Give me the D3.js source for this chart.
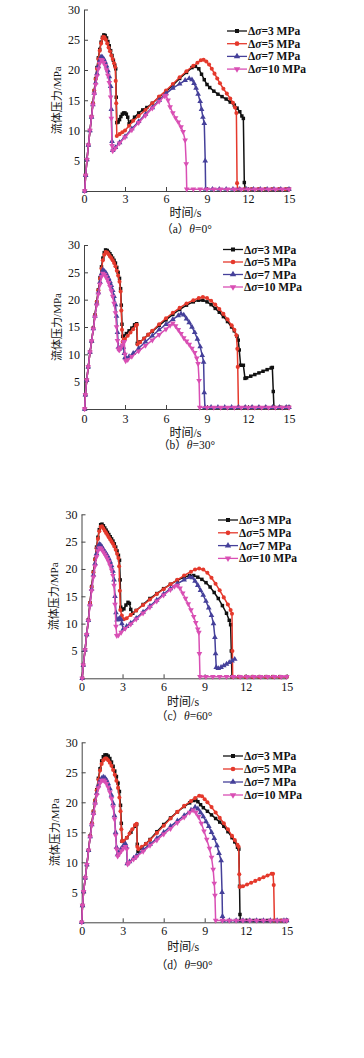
<!DOCTYPE html>
<html lang="zh">
<head>
<meta charset="utf-8">
<title>流体压力曲线</title>
<style>
  body { margin: 0; background: #fff; }
  svg { display: block; }
  .axis path, .axis line { stroke: #444; stroke-width: 1; }
  .axis text { font-family: "Liberation Serif", serif; font-size: 12px; fill: #111; }
  .lbl { font-family: "Liberation Serif", "Noto Sans CJK SC", serif; fill: #111; }
  .leg { font-family: "Liberation Serif", serif; font-size: 11.5px; font-weight: bold; fill: #111; }
</style>
<script src="https://d3js.org/d3.v7.min.js"></script>
</head>
<body>
<svg width="364" height="1058"></svg>
<script>
// ticks and labels
var timeTicks = [0, 3, 6, 9, 12, 15];
var pressureTicks = [5, 10, 15, 20, 25, 30];
var stressLevels = ["3", "5", "7", "10"];
var panelTags = ["a", "b", "c", "d"];
var panelAngles = ["0°", "30°", "60°", "90°"];

// (a) theta = 0
var a3 = [[0.05,0],[0.12,2.6],[0.22,5.2],[0.32,7.6],[0.44,10],[0.55,12.3],[0.65,14.5],[0.75,16.6],[0.85,18.6],[0.95,20.4],[1.05,22],[1.15,23.4],[1.25,24.6],[1.35,25.4],[1.45,25.8],[1.55,25.7],[1.65,25.3],[1.75,24.7],[1.85,24],[1.95,23.2],[2.05,22.4],[2.15,21.6],[2.25,20.8],[2.32,20.2],[2.36,15.5],[2.4,11.3],[2.5,11.4],[2.6,11.8],[2.7,12.3],[2.8,12.7],[2.9,12.9],[3.0,12.9],[3.1,12.7],[3.2,12.2],[3.3,11.1],[3.45,11.5],[3.7,12.2],[4,12.9],[4.3,13.4],[4.6,13.8],[5,14.5],[5.5,15.5],[6,16.4],[6.5,17.5],[7,18.6],[7.5,19.6],[7.9,20.4],[8.15,20.6],[8.4,20.2],[8.6,19.3],[8.8,18.4],[9.0,17.6],[9.2,17.1],[9.5,16.5],[9.8,16.0],[10.1,15.6],[10.4,15.2],[10.7,14.7],[11.0,14.2],[11.2,13.7],[11.4,13.1],[11.55,12.4],[11.66,12],[11.73,1.4],[11.8,0.3],[12.3,0.3],[12.8,0.3],[13.3,0.3],[13.8,0.3],[14.3,0.3],[14.8,0.3],[15,0.3]];
var a5 = [[0.05,0],[0.12,2.6],[0.22,5.2],[0.32,7.6],[0.44,10],[0.55,12.3],[0.65,14.5],[0.75,16.6],[0.85,18.5],[0.95,20.2],[1.05,21.8],[1.15,23.2],[1.25,24.4],[1.35,25.2],[1.42,25.5],[1.5,25.4],[1.6,25],[1.7,24.4],[1.8,23.7],[1.9,23.1],[2.0,22.4],[2.1,21.8],[2.2,21.1],[2.28,20.5],[2.32,18.2],[2.36,14.5],[2.4,9.1],[2.6,9.4],[2.8,9.7],[3,10],[3.3,10.8],[3.6,11.6],[4,12.4],[4.5,13.4],[5,14.5],[5.5,15.6],[6,16.6],[6.5,17.7],[7,18.8],[7.5,19.8],[8,20.7],[8.3,21.2],[8.55,21.6],[8.75,21.7],[8.95,21.4],[9.15,20.9],[9.35,20.2],[9.55,19.4],[9.75,18.6],[9.95,17.8],[10.2,16.9],[10.45,16.1],[10.7,15.3],[10.9,14.6],[11.05,13.8],[11.15,12.9],[11.2,1.3],[11.25,0.3],[11.75,0.3],[12.25,0.3],[12.75,0.3],[13.25,0.3],[13.75,0.3],[14.25,0.3],[14.75,0.3],[15,0.3]];
var a7 = [[0.05,0],[0.12,2.6],[0.22,5.2],[0.32,7.6],[0.44,10],[0.55,12.2],[0.65,14.3],[0.75,16.2],[0.85,17.9],[0.95,19.4],[1.05,20.6],[1.15,21.6],[1.25,22.2],[1.35,22.1],[1.45,21.8],[1.55,21.3],[1.65,20.7],[1.75,19.9],[1.85,18.9],[1.95,17.3],[2.0,13.5],[2.05,8.2],[2.1,6.7],[2.3,7.2],[2.6,8.0],[3,9.0],[3.5,10.3],[4,11.5],[4.5,12.7],[5,13.8],[5.5,15],[6,16.1],[6.5,17],[7,17.7],[7.4,18.3],[7.7,18.6],[7.9,18.4],[8.05,17.8],[8.2,17],[8.35,16],[8.5,14.8],[8.6,13.5],[8.7,12.2],[8.8,11.2],[8.87,5],[8.9,0.3],[9.4,0.3],[9.9,0.3],[10.4,0.3],[10.9,0.3],[11.4,0.3],[11.9,0.3],[12.4,0.3],[12.9,0.3],[13.4,0.3],[13.9,0.3],[14.4,0.3],[15,0.3]];
var a10 = [[0.05,0],[0.12,2.6],[0.22,5.2],[0.32,7.6],[0.44,10],[0.55,12.2],[0.65,14.2],[0.75,16],[0.85,17.6],[0.95,19],[1.05,20.2],[1.15,21.1],[1.25,21.7],[1.35,21.6],[1.45,21.2],[1.55,20.7],[1.65,20],[1.75,19.1],[1.85,17.9],[1.95,15.5],[2.0,12],[2.05,7.5],[2.1,6.6],[2.3,7.1],[2.6,7.9],[3,8.9],[3.5,10.1],[4,11.3],[4.5,12.5],[5,13.7],[5.5,14.8],[5.9,15.7],[6.0,15.8],[6.15,15.0],[6.3,13.9],[6.5,12.9],[6.7,12.1],[6.9,11.4],[7.1,10.6],[7.25,9.8],[7.4,8.4],[7.48,4.5],[7.52,0.3],[8,0.3],[8.5,0.3],[9,0.3],[9.5,0.3],[10,0.3],[10.5,0.3],[11,0.3],[11.5,0.3],[12,0.3],[12.5,0.3],[13,0.3],[13.5,0.3],[14,0.3],[14.5,0.3],[15,0.3]];

// (b) theta = 30
var b3 = [[0.05,0],[0.1,2.6],[0.2,5.3],[0.31,7.7],[0.44,10.4],[0.56,12.4],[0.68,14.8],[0.8,17.2],[0.93,19.6],[1.05,21.8],[1.17,24],[1.28,26],[1.38,27.6],[1.48,28.6],[1.58,29.1],[1.7,29],[1.8,28.7],[1.9,28.4],[2.0,28],[2.1,27.6],[2.2,27.2],[2.3,26.7],[2.4,25.9],[2.5,25],[2.6,23.9],[2.68,22],[2.73,19],[2.78,15.5],[2.83,13.3],[2.9,13.3],[3.1,13.8],[3.3,14.3],[3.5,14.8],[3.7,15.4],[3.85,15.6],[3.9,12],[4.1,12.3],[4.4,12.9],[4.7,13.6],[5,14.2],[5.5,15.3],[6,16.3],[6.5,17.3],[7,18.2],[7.5,19],[8,19.6],[8.4,19.9],[8.7,19.9],[9,19.6],[9.3,19.1],[9.6,18.4],[9.9,17.7],[10.2,16.9],[10.5,16],[10.8,15],[11,14.3],[11.2,13.3],[11.29,12.6],[11.36,10.8],[11.46,8.0],[11.66,8.0],[11.78,5.6],[11.9,5.7],[12.2,6.0],[12.5,6.3],[12.8,6.6],[13.1,6.9],[13.4,7.2],[13.7,7.5],[13.78,7.6],[13.85,3.2],[13.9,0.3],[14.4,0.3],[15,0.3]];
var b5 = [[0.05,0],[0.1,2.6],[0.2,5.3],[0.31,7.7],[0.44,10.4],[0.56,12.4],[0.68,14.8],[0.8,17.2],[0.93,19.6],[1.05,21.7],[1.17,23.8],[1.28,25.7],[1.38,27.2],[1.48,28.2],[1.58,28.7],[1.7,28.6],[1.8,28.3],[1.9,27.9],[2.0,27.6],[2.1,27.2],[2.2,26.7],[2.3,26.1],[2.4,25.3],[2.5,24.4],[2.6,23.3],[2.68,21.5],[2.73,18],[2.78,14.5],[2.83,12.3],[3.0,12.8],[3.2,13.4],[3.4,14],[3.6,14.6],[3.8,15.3],[3.87,15.4],[3.92,11.8],[4.1,12.2],[4.4,12.9],[4.7,13.6],[5,14.3],[5.5,15.5],[6,16.6],[6.5,17.6],[7,18.5],[7.5,19.3],[8,19.9],[8.4,20.3],[8.7,20.5],[9,20.3],[9.3,19.8],[9.6,19.1],[9.9,18.3],[10.2,17.4],[10.5,16.4],[10.8,15.3],[11.0,14.5],[11.15,13.5],[11.22,11],[11.25,7.7],[11.3,0.3],[11.8,0.3],[12.3,0.3],[12.8,0.3],[13.3,0.3],[13.8,0.3],[14.3,0.3],[14.8,0.3],[15,0.3]];
var b7 = [[0.05,0],[0.1,2.6],[0.2,5.3],[0.31,7.7],[0.44,10.4],[0.56,12.4],[0.68,14.7],[0.8,17],[0.93,19.3],[1.05,21.3],[1.17,23.2],[1.28,24.7],[1.38,25.4],[1.5,25.2],[1.6,24.9],[1.7,24.4],[1.8,23.9],[1.9,23.3],[2.0,22.6],[2.1,21.7],[2.2,20.6],[2.3,19.1],[2.38,17],[2.45,14],[2.52,11.3],[2.6,11.0],[2.7,11.2],[2.8,11.4],[2.88,11.3],[2.95,10.2],[3.0,9.4],[3.1,9.3],[3.3,9.6],[3.6,10.2],[4,11.1],[4.5,12.3],[5,13.4],[5.5,14.5],[6,15.5],[6.5,16.4],[6.9,17.1],[7.1,17.4],[7.3,17.2],[7.5,16.5],[7.7,15.8],[7.9,15.0],[8.1,14.0],[8.3,12.8],[8.5,11.4],[8.65,9.8],[8.75,8.6],[8.8,3],[8.85,0.3],[9.3,0.3],[9.8,0.3],[10.3,0.3],[10.8,0.3],[11.3,0.3],[11.8,0.3],[12.3,0.3],[12.8,0.3],[13.3,0.3],[13.8,0.3],[14.3,0.3],[14.8,0.3],[15,0.3]];
var b10 = [[0.05,0],[0.1,2.6],[0.2,5.3],[0.31,7.7],[0.44,10.4],[0.56,12.4],[0.68,14.6],[0.8,16.8],[0.93,19],[1.05,21],[1.17,22.8],[1.28,24.2],[1.38,24.8],[1.5,24.6],[1.6,24.2],[1.7,23.7],[1.8,23.1],[1.9,22.4],[2.0,21.6],[2.1,20.6],[2.2,19.3],[2.3,17.6],[2.38,15],[2.45,12.5],[2.52,10.9],[2.6,10.8],[2.7,11.2],[2.8,11.7],[2.9,12.2],[2.95,12.3],[3.0,10],[3.05,8.8],[3.2,9.0],[3.5,9.6],[4,10.6],[4.5,11.6],[5,12.6],[5.5,13.6],[6,14.6],[6.3,15.3],[6.5,15.7],[6.7,15.2],[6.9,14.5],[7.1,13.8],[7.3,13],[7.5,12.4],[7.7,11.8],[7.9,11.1],[8.1,10.3],[8.25,9.3],[8.35,8.3],[8.42,5.2],[8.47,0.3],[9,0.3],[9.5,0.3],[10,0.3],[10.5,0.3],[11,0.3],[11.5,0.3],[12,0.3],[12.5,0.3],[13,0.3],[13.5,0.3],[14,0.3],[14.5,0.3],[15,0.3]];

// (c) theta = 60
var c3 = [[0.05,0],[0.13,2.4],[0.26,5.2],[0.38,8],[0.5,10.7],[0.62,13.8],[0.74,16.8],[0.87,19.5],[0.99,21.8],[1.1,24],[1.2,25.8],[1.3,27.2],[1.4,28.1],[1.5,28.2],[1.6,27.9],[1.7,27.5],[1.8,27.1],[1.9,26.7],[2.0,26.3],[2.1,25.9],[2.2,25.5],[2.3,25.1],[2.4,24.6],[2.5,24],[2.6,23.3],[2.7,22.5],[2.78,21.6],[2.83,18],[2.87,13],[2.95,12.5],[3.1,12.7],[3.25,13.4],[3.4,13.9],[3.5,13.7],[3.6,12.6],[3.75,11.9],[4,12.4],[4.5,13.5],[5,14.6],[5.5,15.5],[6,16.4],[6.5,17.2],[7,17.9],[7.5,18.5],[7.9,18.8],[8.2,18.8],[8.5,18.5],[8.8,18.1],[9.1,17.5],[9.4,16.7],[9.7,15.7],[10,14.6],[10.3,13.3],[10.6,11.9],[10.8,10.6],[10.9,9.8],[10.95,5],[11.0,0.3],[11.5,0.3],[12,0.3],[12.5,0.3],[13,0.3],[13.5,0.3],[14,0.3],[14.5,0.3],[15,0.3]];
var c5 = [[0.05,0],[0.13,2.4],[0.26,5.2],[0.38,8],[0.5,10.7],[0.62,13.8],[0.74,16.7],[0.87,19.4],[0.99,21.7],[1.1,23.8],[1.2,25.5],[1.3,26.9],[1.4,27.7],[1.5,27.8],[1.6,27.4],[1.7,27],[1.8,26.6],[1.9,26.2],[2.0,25.8],[2.1,25.4],[2.2,25],[2.3,24.6],[2.4,24.1],[2.5,23.5],[2.6,22.8],[2.7,22],[2.75,20.5],[2.8,16],[2.84,12.5],[2.95,11.5],[3.1,10.8],[3.3,11.0],[3.6,11.6],[4,12.4],[4.5,13.4],[5,14.4],[5.5,15.4],[6,16.3],[6.5,17.2],[7,18],[7.5,18.8],[8,19.5],[8.3,19.9],[8.6,20.1],[8.9,19.9],[9.2,19.3],[9.5,18.4],[9.8,17.3],[10.1,16.1],[10.4,14.8],[10.7,13.5],[10.9,12.5],[11.0,11.8],[11.03,5],[11.05,0.3],[11.5,0.3],[12,0.3],[12.5,0.3],[13,0.3],[13.5,0.3],[14,0.3],[14.5,0.3],[15,0.3]];
var c7 = [[0.05,0],[0.13,2.4],[0.26,5.2],[0.38,8],[0.5,10.6],[0.62,13.5],[0.74,16.3],[0.87,18.9],[0.99,21],[1.1,22.8],[1.2,24],[1.3,24.5],[1.4,24.4],[1.5,24],[1.6,23.6],[1.7,23.2],[1.8,22.8],[1.9,22.4],[2.0,21.9],[2.1,21.3],[2.2,20.6],[2.3,19.6],[2.38,18],[2.45,15],[2.52,12],[2.6,10.7],[2.7,10.8],[2.8,11],[2.88,10.8],[2.95,10],[3.05,9.0],[3.3,9.5],[3.6,10.1],[4,11],[4.5,12.1],[5,13.2],[5.5,14.3],[6,15.4],[6.5,16.4],[7,17.3],[7.5,18],[7.9,18.5],[8.1,18.4],[8.3,17.8],[8.5,17],[8.7,16.1],[8.9,15.2],[9.1,14.1],[9.3,12.9],[9.5,11.5],[9.65,10],[9.75,7.5],[9.8,4.5],[9.85,2],[10,1.8],[10.2,2.0],[10.4,2.3],[10.6,2.6],[10.8,2.9],[11.0,3.2],[11.2,3.5]];
var c10 = [[0.05,0],[0.13,2.4],[0.26,5.2],[0.38,8],[0.5,10.5],[0.62,13.3],[0.74,16],[0.87,18.5],[0.99,20.5],[1.1,22.2],[1.2,23.3],[1.3,23.8],[1.4,23.8],[1.5,23.5],[1.6,23.1],[1.7,22.7],[1.8,22.3],[1.9,21.8],[2.0,21.3],[2.1,20.6],[2.2,19.8],[2.3,18.8],[2.38,17],[2.45,13.5],[2.52,9.5],[2.58,7.8],[2.7,7.9],[2.9,8.4],[3.2,9.1],[3.6,9.9],[4,10.8],[4.5,11.9],[5,13],[5.5,14.1],[6,15.2],[6.5,16.2],[6.8,16.8],[7.0,17],[7.2,16.5],[7.4,15.6],[7.6,14.6],[7.8,13.6],[8,12.5],[8.2,11.3],[8.35,10.2],[8.5,9],[8.58,8.4],[8.62,4.5],[8.66,0.3],[9.1,0.3],[9.6,0.3],[10.1,0.3],[10.6,0.3],[11.1,0.3],[11.6,0.3],[12.1,0.3],[12.6,0.3],[13.1,0.3],[13.6,0.3],[14.1,0.3],[14.6,0.3],[15,0.3]];

// (d) theta = 90
var d3s = [[0.0,0],[0.06,2.8],[0.14,5.1],[0.26,7.4],[0.38,9.6],[0.5,12],[0.62,14.4],[0.74,16.5],[0.86,18.5],[0.98,20.3],[1.1,22.1],[1.22,24],[1.34,25.6],[1.46,26.9],[1.58,27.6],[1.7,27.9],[1.82,27.9],[1.94,27.7],[2.06,27.3],[2.18,26.7],[2.3,26],[2.42,25.2],[2.54,24.3],[2.66,23.2],[2.76,21.8],[2.84,19.5],[2.9,16.5],[2.95,13.5],[3.0,13.5],[3.3,14.1],[3.6,15],[3.9,16],[4.02,16.3],[4.07,13],[4.12,11.8],[4.4,12.4],[4.7,13.1],[5,13.8],[5.5,15.1],[6,16.3],[6.5,17.4],[7,18.4],[7.5,19.3],[7.9,19.9],[8.2,20.3],[8.35,20.4],[8.5,20.1],[8.7,19.6],[8.9,19.1],[9.2,18.5],[9.5,17.9],[9.8,17.3],[10.1,16.7],[10.4,16],[10.7,15.1],[11,14.1],[11.2,13.4],[11.4,12.5],[11.5,12.2],[11.55,6],[11.58,1.3],[11.62,0.3],[12.1,0.3],[12.6,0.3],[13.1,0.3],[13.6,0.3],[14.1,0.3],[14.6,0.3],[15,0.3]];
var d5 = [[0.0,0],[0.06,2.8],[0.14,5.1],[0.26,7.4],[0.38,9.6],[0.5,12],[0.62,14.4],[0.74,16.5],[0.86,18.5],[0.98,20.3],[1.1,22],[1.22,23.8],[1.34,25.3],[1.46,26.4],[1.58,27],[1.7,27.3],[1.82,27.3],[1.94,27],[2.06,26.6],[2.18,26.1],[2.3,25.4],[2.42,24.6],[2.54,23.6],[2.66,22.4],[2.76,20.8],[2.84,18.5],[2.9,15.5],[2.95,13.5],[3.1,13.6],[3.3,14.1],[3.5,14.8],[3.7,15.5],[3.9,16.2],[4.02,16.4],[4.07,12.6],[4.15,12.2],[4.4,12.6],[4.7,13.1],[5,13.7],[5.5,14.9],[6,16.1],[6.5,17.3],[7,18.4],[7.5,19.4],[8,20.2],[8.3,20.7],[8.6,21.1],[8.8,21],[9.0,20.5],[9.2,20],[9.5,19.2],[9.8,18.3],[10.1,17.4],[10.4,16.5],[10.7,15.5],[11,14.4],[11.2,13.7],[11.4,12.9],[11.48,12.6],[11.53,8],[11.57,5.9],[11.8,6.0],[12.1,6.3],[12.4,6.6],[12.7,6.9],[13,7.2],[13.3,7.5],[13.6,7.8],[13.9,8.1],[14.0,8.1],[14.05,6.2],[14.1,0.3],[14.6,0.3],[15,0.3]];
var d7 = [[0.0,0],[0.06,2.8],[0.14,5.1],[0.26,7.4],[0.38,9.6],[0.5,12],[0.62,14.3],[0.74,16.3],[0.86,18.2],[0.98,19.9],[1.1,21.5],[1.22,22.8],[1.34,23.6],[1.46,24],[1.58,24.2],[1.7,24.1],[1.82,23.7],[1.94,23.1],[2.06,22.3],[2.18,21.2],[2.3,19.8],[2.4,17.8],[2.48,15],[2.55,12.5],[2.62,11.3],[2.75,11.8],[2.9,12.3],[3.05,12.8],[3.2,13.1],[3.28,12.5],[3.33,9.8],[3.5,10.1],[3.8,10.7],[4,11.1],[4.5,12.1],[5,13],[5.5,14],[6,15],[6.5,16],[7,16.9],[7.5,17.8],[8,18.7],[8.3,19.2],[8.5,18.9],[8.7,18.3],[8.9,17.6],[9.1,16.8],[9.3,16],[9.5,15],[9.7,14],[9.9,12.8],[10.05,11.5],[10.2,10.3],[10.27,5],[10.3,1],[10.35,0.3],[10.8,0.3],[11.3,0.3],[11.8,0.3],[12.3,0.3],[12.8,0.3],[13.3,0.3],[13.8,0.3],[14.3,0.3],[14.8,0.3],[15,0.3]];
var d10 = [[0.0,0],[0.06,2.8],[0.14,5.1],[0.26,7.4],[0.38,9.6],[0.5,12],[0.62,14.2],[0.74,16.2],[0.86,18],[0.98,19.7],[1.1,21.2],[1.22,22.4],[1.34,23.2],[1.46,23.6],[1.58,23.7],[1.7,23.5],[1.82,23.1],[1.94,22.5],[2.06,21.7],[2.18,20.6],[2.3,19.2],[2.4,17.2],[2.48,14.5],[2.55,12.2],[2.63,11],[2.75,11.4],[2.9,11.9],[3.05,12.3],[3.2,12.6],[3.3,12.2],[3.36,9.7],[3.5,10],[3.8,10.5],[4,10.9],[4.5,11.8],[5,12.8],[5.5,13.7],[6,14.7],[6.5,15.6],[7,16.6],[7.5,17.5],[7.9,18.3],[8.15,18.7],[8.35,18.3],[8.55,17.6],[8.75,16.5],[8.95,15.2],[9.15,13.8],[9.35,12.3],[9.5,10.8],[9.62,8.8],[9.7,6.5],[9.75,4.5],[9.8,0.3],[10.3,0.3],[10.8,0.3],[11.3,0.3],[11.8,0.3],[12.3,0.3],[12.8,0.3],[13.3,0.3],[13.8,0.3],[14.3,0.3],[14.8,0.3],[15,0.3]];

var panelSeries = [[a3, a5, a7, a10], [b3, b5, b7, b10], [c3, c5, c7, c10], [d3s, d5, d7, d10]];

// styles per series: black square, red circle, blue up-triangle, magenta down-triangle
var colors = ["#111111", "#e5392c", "#45409a", "#d94fb4"];
var shapes = [d3.symbolSquare, d3.symbolCircle, d3.symbolTriangle, d3.symbolTriangle];
var sizes = [12, 13, 14, 14];
var rotations = [0, 0, 0, 180];

// page layout of the four panels (pixels)
var layout = [
  { xl: 84,   xr: 289,   yb: 191,   yt: 9.5,   tickPad: 3, xlab: 213, cap: 229,   legX: 227, legY: 31,    legDy: 12.7 },
  { xl: 84,   xr: 289,   yb: 409,   yt: 245,   tickPad: 5, xlab: 433, cap: 445,   legX: 223, legY: 249.5, legDy: 12.5 },
  { xl: 81.5, xr: 286.7, yb: 678.3, yt: 514.3, tickPad: 4, xlab: 702, cap: 716,   legX: 218, legY: 520,   legDy: 12.8 },
  { xl: 81.7, xr: 286.7, yb: 922.3, yt: 742.3, tickPad: 4, xlab: 947, cap: 965,   legX: 223, legY: 756,   legDy: 13 }
];

var svg = d3.select("svg");

layout.forEach(function(L, i) {
  var x = d3.scaleLinear().domain([0, 15]).range([L.xl, L.xr]);
  var y = d3.scaleLinear().domain([0, 30]).range([L.yb, L.yt]);
  var g = svg.append("g");

  // axes, ticks pointing inward
  g.append("g")
    .attr("class", "axis")
    .attr("transform", "translate(0," + L.yb + ")")
    .call(d3.axisBottom(x).tickValues(timeTicks).tickSizeInner(-4).tickSizeOuter(0).tickPadding(L.tickPad));
  g.append("g")
    .attr("class", "axis")
    .attr("transform", "translate(" + L.xl + ",0)")
    .call(d3.axisLeft(y).tickValues(pressureTicks).tickSizeInner(-4).tickSizeOuter(0).tickPadding(4));

  // series
  var line = d3.line().x(function(d) { return x(d[0]); }).y(function(d) { return y(d[1]); });
  panelSeries[i].forEach(function(data, k) {
    g.append("path")
      .datum(data)
      .attr("fill", "none")
      .attr("stroke", colors[k])
      .attr("stroke-width", 1.5)
      .attr("stroke-linejoin", "round")
      .attr("d", line);
    g.selectAll(".m" + k)
      .data(data)
      .enter().append("path")
        .attr("class", "m" + k)
        .attr("fill", colors[k])
        .attr("d", d3.symbol().type(shapes[k]).size(sizes[k]))
        .attr("transform", function(d) {
          return "translate(" + x(d[0]) + "," + y(d[1]) + ") rotate(" + rotations[k] + ")";
        });
  });

  // legend
  stressLevels.forEach(function(s, k) {
    var ly = L.legY + k * L.legDy;
    g.append("line")
      .attr("x1", L.legX).attr("x2", L.legX + 20)
      .attr("y1", ly).attr("y2", ly)
      .attr("stroke", colors[k]).attr("stroke-width", 1.3);
    g.append("path")
      .attr("fill", colors[k])
      .attr("d", d3.symbol().type(shapes[k]).size(sizes[k] + 4))
      .attr("transform", "translate(" + (L.legX + 10) + "," + ly + ") rotate(" + rotations[k] + ")");
    var t = g.append("text")
      .attr("class", "leg")
      .attr("x", L.legX + 21)
      .attr("y", ly)
      .attr("dy", "0.35em");
    t.append("tspan").text("Δ");
    t.append("tspan").attr("font-style", "italic").text("σ");
    t.append("tspan").text("=" + s + " MPa");
  });

  // axis titles
  g.append("text")
    .attr("class", "lbl")
    .attr("font-size", 11)
    .attr("text-anchor", "middle")
    .attr("transform", "translate(" + (L.xl - 27) + "," + ((L.yb + L.yt) / 2) + ") rotate(-90)")
    .attr("dy", "0.35em")
    .text("流体压力/MPa");
  g.append("text")
    .attr("class", "lbl")
    .attr("font-size", 12)
    .attr("text-anchor", "middle")
    .attr("x", (L.xl + L.xr) / 2 - 1)
    .attr("y", L.xlab)
    .attr("dy", "0.35em")
    .text("时间/s");

  // caption
  var cap = g.append("text")
    .attr("class", "lbl")
    .attr("font-size", 11.5)
    .attr("text-anchor", "middle")
    .attr("x", (L.xl + L.xr) / 2)
    .attr("y", L.cap)
    .attr("dy", "0.35em");
  cap.append("tspan").text("（" + panelTags[i] + "）");
  cap.append("tspan").attr("font-style", "italic").text("θ");
  cap.append("tspan").text("=" + panelAngles[i]);
});
</script>
</body>
</html>
